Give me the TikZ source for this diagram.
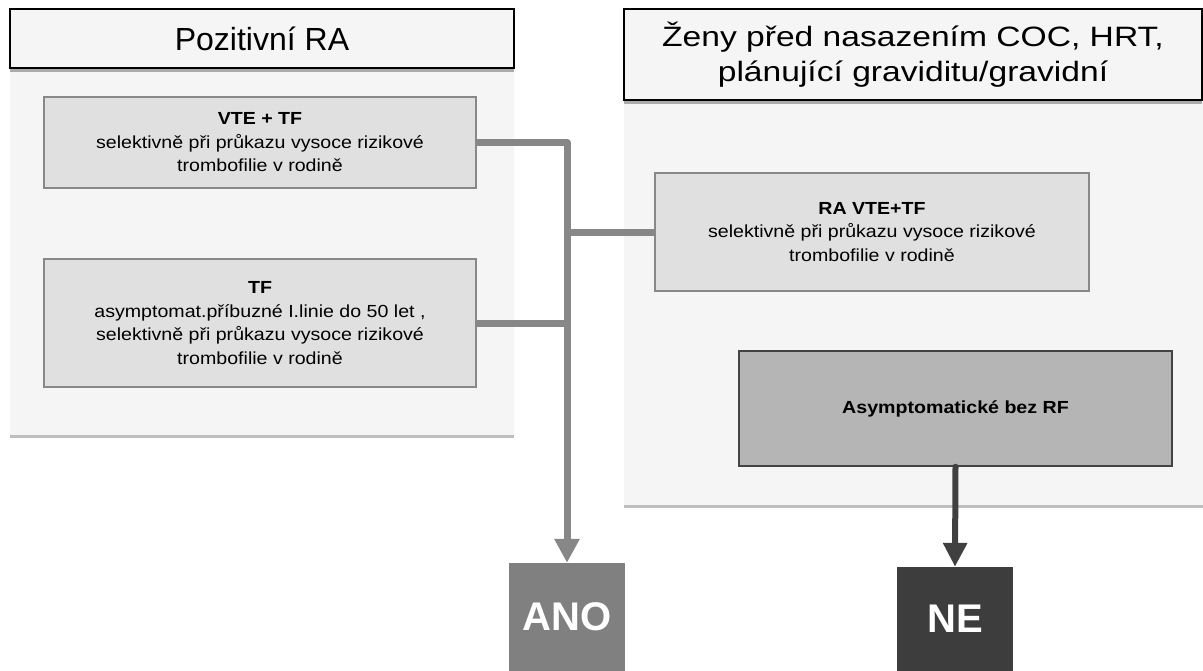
\documentclass[tikz,border=0pt]{standalone}
\usepackage{fontspec}
\setmainfont{Liberation Sans}
\newfontfamily\bodyfont{Liberation Sans}[FakeStretch=1.12]
\newfontfamily\rtitlefont{Liberation Sans}[FakeStretch=1.2]
\usetikzlibrary{arrows.meta,shadows}
\definecolor{panelbg}{HTML}{F5F5F5}
\definecolor{boxfill}{HTML}{E0E0E0}
\definecolor{boxline}{HTML}{888888}
\definecolor{asymfill}{HTML}{B5B5B5}
\definecolor{asymline}{HTML}{444444}
\definecolor{anofill}{HTML}{808080}
\definecolor{nefill}{HTML}{3D3D3D}
\definecolor{connlight}{HTML}{878787}
\definecolor{conndark}{HTML}{404040}
\begin{document}
\begin{tikzpicture}[x=1pt,y=-1pt,
  panel/.style={rectangle,draw=none,fill=panelbg,inner sep=0pt,
    drop shadow={shadow xshift=0pt,shadow yshift=-2.5pt,opacity=0.25,fill=black}},
  head/.style={rectangle,draw=black,line width=2pt,fill=panelbg,inner sep=0pt,align=center,
    drop shadow={shadow xshift=0pt,shadow yshift=-3.5pt,opacity=0.3,fill=black}},
  infobox/.style={rectangle,draw=boxline,line width=1.5pt,fill=boxfill,inner sep=0pt,align=center,
    font=\bodyfont\fontsize{17.5pt}{23.5pt}\selectfont},
  asymbox/.style={rectangle,draw=asymline,line width=1.5pt,fill=asymfill,inner sep=0pt,align=center,
    font=\bodyfont\bfseries\fontsize{17.5pt}{23.5pt}\selectfont},
  result/.style={rectangle,draw=none,inner sep=0pt,text=white,
    font=\bfseries\fontsize{40pt}{44pt}\selectfont},
  conn/.style={draw=connlight,line width=7pt,line join=round,
    -{Triangle[width=24pt,length=24pt]}},
  branch/.style={draw=connlight,line width=7pt},
  darkconn/.style={draw=conndark,line width=6pt,line cap=round,
    -{Triangle[width=23pt,length=24pt]}}
]
\useasboundingbox (0,0) rectangle (1203,670);

% panels
\node[panel,minimum width=504pt,minimum height=367pt] (lpanel) at (262,251.5) {};
\node[panel,minimum width=579pt,minimum height=405pt] (rpanel) at (913.5,302.5) {};

% headers
\node[head,minimum width=504pt,minimum height=59pt,
  font=\fontsize{32pt}{36pt}\selectfont] (lhead) at (262,38.5) {Pozitivní RA};
\node[head,minimum width=578pt,minimum height=91pt,
  font=\rtitlefont\fontsize{28pt}{35pt}\selectfont] (rhead) at (913,54.5)
  {Ženy před nasazením COC, HRT,\\plánující graviditu/gravidní};

% boxes
\node[infobox,minimum width=432pt,minimum height=91pt] (b1) at (260,142.5)
  {{\bfseries VTE + TF}\\selektivně při průkazu vysoce rizikové\\trombofilie v rodině};
\node[infobox,minimum width=432pt,minimum height=128pt] (b2) at (260,323)
  {{\bfseries TF}\\asymptomat.příbuzné I.linie do 50 let ,\\selektivně při průkazu vysoce rizikové\\trombofilie v rodině};
\node[infobox,minimum width=434pt,minimum height=118pt] (ra) at (872,232)
  {{\bfseries RA VTE+TF}\\selektivně při průkazu vysoce rizikové\\trombofilie v rodině};
\node[asymbox,minimum width=433pt,minimum height=115pt] (asym) at (955.5,408.5)
  {Asymptomatické bez RF};

% results
\node[result,fill=anofill,minimum width=116pt,minimum height=108pt] (ano) at (567,617) {ANO};
\node[result,fill=nefill,minimum width=116pt,minimum height=104pt] (ne) at (955,619) {NE};

% connectors
\draw[branch] (b2.east) -- (b2.east -| ano.north);
\draw[branch] (ra.west) -- (ra.west -| ano.north);
\draw[conn] (b1.east) -| (ano.north);
\draw[darkconn] (asym.south) -- (ne.north);
\end{tikzpicture}
\end{document}
